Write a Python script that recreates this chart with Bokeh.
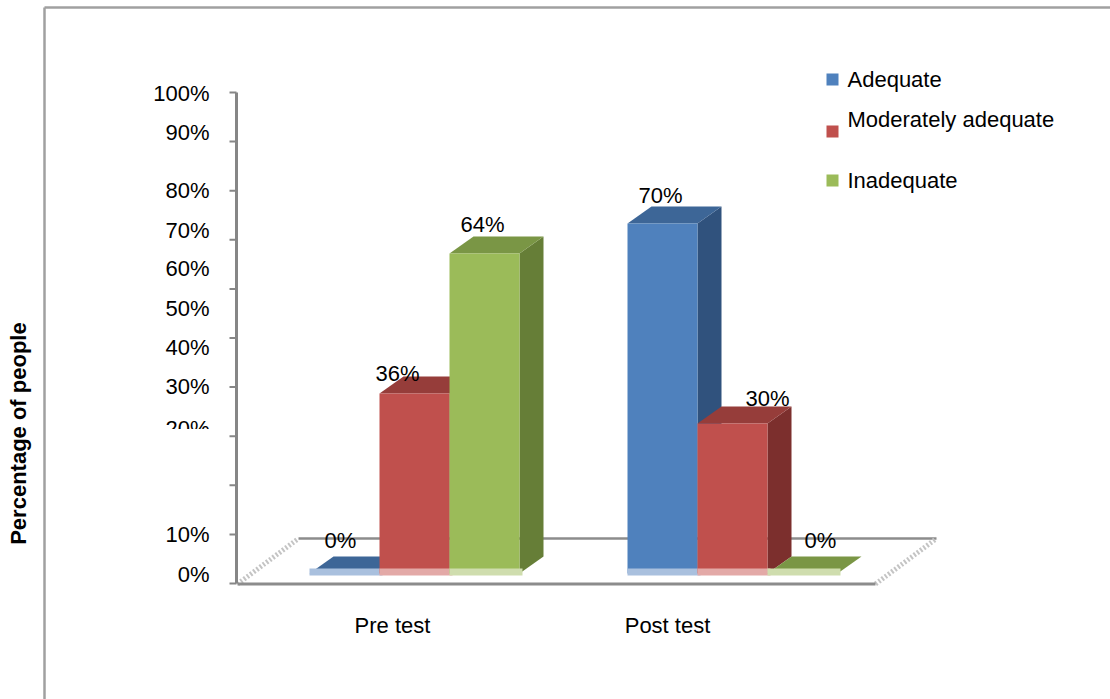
import numpy as np
from bokeh.plotting import figure
from bokeh.models import Range1d
from bokeh.core.properties import value
from bokeh.embed import file_html
from bokeh.resources import INLINE

# ---------------- data ----------------
categories = ["Pre test", "Post test"]
series_names = ["Adequate", "Moderately adequate", "Inadequate"]
adequate = [0, 70]
moderately_adequate = [36, 30]
inadequate = [64, 0]
ytick_values = [0, 10, 20, 30, 40, 50, 60, 70, 80, 90, 100]
ytick_labels = ["0%", "10%", "20%", "30%", "40%", "50%", "60%", "70%", "80%", "90%", "100%"]
y_title = "Percentage of  people"

series_values = [adequate, moderately_adequate, inadequate]

# ---------------- layout / style ----------------
W, H = 1110, 699
BASE_PX = 573.0      # pixel row of the bar base (front)
SCALE = 5.0          # pixels per percent for bars
WALL_BASE_PX = 583.0 # pixel row of 0 on the wall axis
WALL_SCALE = 4.91    # pixels per percent on the wall axis

def yv(px):
    return (BASE_PX - px) / SCALE

def wv(px):
    return (WALL_BASE_PX - px) / WALL_SCALE

FONT = value("Liberation Sans")
FS = value("22px")

front_colors = ["#4F81BD", "#C0504D", "#9BBB59"]
top_colors = ["#3D6697", "#963D3A", "#7A9645"]
side_colors = ["#30527D", "#7C2F2D", "#667E37"]
strip_colors = ["#A9C0DE", "#E3A9A7", "#CFDDAE"]

GROUP_LEFT0 = 309
GROUP_STEP = 318
BAR_W = 70
DEPTH_X = 24
DEPTH_Y = 17 / SCALE

# label nudges (pixels) per [category][series]
label_dx = [[-4, -17, -2], [-2, 35, 18]]
label_dy = [[33, 20, 29], [28, 25, 33]]
cat_label_x = [392, 667]
cat_label_y_px = 625
# tick label positions (wall units) as they appear in the reference
ytick_label_pos = [wv(574), wv(534), wv(428), wv(386), wv(347), wv(308),
                   wv(268), wv(230), wv(190), wv(132), wv(93)]

p = figure(width=W, height=H, x_range=Range1d(0, W), y_range=Range1d(yv(H), yv(0)),
           output_backend="svg", toolbar_location=None,
           x_axis_location=None, y_axis_location=None,
           min_border=0, outline_line_color=None,
           background_fill_color="white", border_fill_color="white")
p.xgrid.visible = False
p.ygrid.visible = False
p.extra_y_ranges = {"wall": Range1d(wv(H), wv(0))}

# outer chart border (top and left visible)
p.segment(x0=[44, 44], y0=[yv(7), yv(7)], x1=[44, W], y1=[yv(H), yv(7)],
          line_color="#A0A0A0", line_width=2.5)

# floor
floor_back_px, floor_front_px = 538, 583.5
p.segment(x0=[298], y0=[yv(floor_back_px)], x1=[936], y1=[yv(floor_back_px)],
          line_color="#8C8C8C", line_width=2.5)
p.segment(x0=[237, 875], y0=[yv(floor_front_px)] * 2, x1=[298, 936], y1=[yv(floor_back_px)] * 2,
          line_color="#C4C4C4", line_width=5, line_dash="2 2")
p.segment(x0=[237], y0=[yv(floor_front_px)], x1=[875], y1=[yv(floor_front_px)],
          line_color="#8C8C8C", line_width=3)

# wall axis
p.segment(x0=[236], y0=[0], x1=[236], y1=[100], y_range_name="wall",
          line_color="#868686", line_width=3)
p.segment(x0=[229] * len(ytick_values), y0=ytick_values, x1=[236] * len(ytick_values),
          y1=ytick_values, y_range_name="wall", line_color="#868686", line_width=2)
p.text(x=[209] * len(ytick_labels), y=ytick_label_pos, text=ytick_labels,
       y_range_name="wall", text_align="right", text_baseline="middle",
       text_font=FONT, text_font_size=FS, text_color="black")
# the "20%" label is cut off in the reference
p.quad(left=[145], right=[226], top=[wv(428.5)], bottom=[wv(446)], y_range_name="wall",
       fill_color="white", line_color=None)

# 3D bars
for i, cat in enumerate(categories):
    gl = GROUP_LEFT0 + i * GROUP_STEP
    for j in range(len(series_names)):
        v = series_values[j][i]
        x0 = gl + j * BAR_W
        x1 = x0 + BAR_W
        # side face
        p.patch(x=[x1, x1 + DEPTH_X, x1 + DEPTH_X, x1],
                y=[0, DEPTH_Y, v + DEPTH_Y, v],
                fill_color=side_colors[j], line_color=None)
        # top face
        p.patch(x=[x0, x0 + DEPTH_X, x1 + DEPTH_X, x1],
                y=[v, v + DEPTH_Y, v + DEPTH_Y, v],
                fill_color=top_colors[j], line_color=None)
        # front face
        if v > 0:
            p.quad(left=[x0], right=[x1], bottom=[0], top=[v],
                   fill_color=front_colors[j], line_color=None)
        # reflection strip at the bar base
        p.quad(left=[x0], right=[x1 + 3], top=[yv(568)], bottom=[yv(575)],
               fill_color=strip_colors[j], line_color=None)
        # data label
        cx = x0 + BAR_W / 2 + label_dx[i][j]
        p.text(x=[cx], y=[v + label_dy[i][j] / SCALE], text=[f"{v}%"],
               text_align="center", text_baseline="middle",
               text_font=FONT, text_font_size=FS, text_color="black")

# category labels
p.text(x=cat_label_x, y=[yv(cat_label_y_px)] * len(categories), text=categories,
       text_align="center", text_baseline="middle",
       text_font=FONT, text_font_size=FS, text_color="black")

# y title
p.text(x=[18], y=[yv(430)], text=[y_title], angle=np.pi / 2,
       text_align="center", text_baseline="middle",
       text_font=FONT, text_font_size=value("22px"), text_font_style="bold",
       text_color="black")

# legend
legend_text_y = [79, 119, 180]
legend_box_y = [79, 131, 180]
p.quad(left=[826] * 3, right=[838] * 3,
       top=[yv(y - 6) for y in legend_box_y], bottom=[yv(y + 6) for y in legend_box_y],
       fill_color=front_colors, line_color=None)
p.text(x=[847] * 3, y=[yv(y) for y in legend_text_y], text=series_names,
       text_align="left", text_baseline="middle",
       text_font=FONT, text_font_size=FS, text_color="black")

open("out.html", "w").write(file_html(p, INLINE))
